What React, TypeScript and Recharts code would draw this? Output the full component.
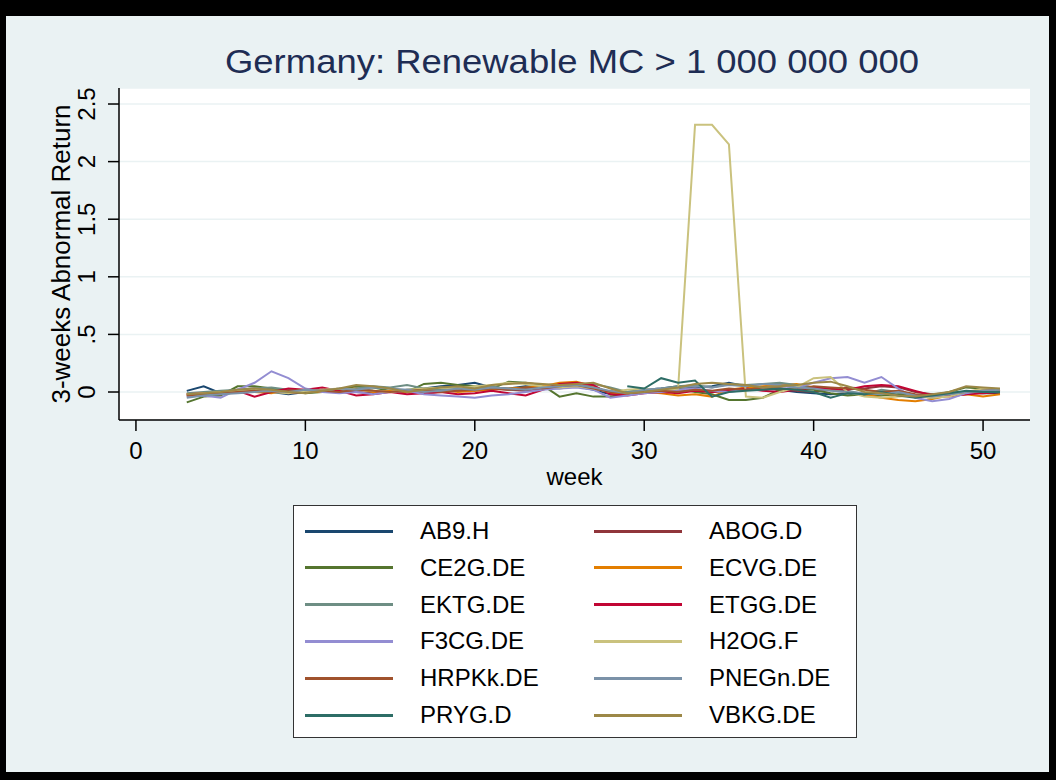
import { CartesianGrid, Line, LineChart, XAxis, YAxis } from "recharts";

const FONT = "'Liberation Sans', Arial, sans-serif";

const weeks = [
  3, 4, 5, 6, 7, 8, 9, 10, 11, 12,
  13, 14, 15, 16, 17, 18, 19, 20, 21, 22,
  23, 24, 25, 26, 27, 28, 29, 30, 31, 32,
  33, 34, 35, 36, 37, 38, 39, 40, 41, 42,
  43, 44, 45, 46, 47, 48, 49, 50, 51
];

const seriesNames = [
  "AB9.H", "ABOG.D", "CE2G.DE", "ECVG.DE", "EKTG.DE", "ETGG.DE",
  "F3CG.DE", "H2OG.F", "HRPKk.DE", "PNEGn.DE", "PRYG.D", "VBKG.DE"
];

const seriesColors = [
  "#1a476f", "#90353b", "#55752f", "#e37e00", "#6e8e84", "#c10534",
  "#938dd2", "#cac27e", "#a0522d", "#7b92a8", "#2d6d66", "#9c8847"
];

const ab9 = [
  0.01, 0.05, -0.01, 0.0, 0.02, 0.0, -0.02, 0.0, 0.02, 0.01,
  0.03, 0.01, 0.0, 0.02, 0.03, 0.05, 0.06, 0.08, 0.04, 0.03,
  0.05, 0.04, 0.06, 0.05, 0.02, -0.02, 0.0, 0.02, 0.03, 0.05,
  0.04, 0.05, 0.08, 0.05, 0.03, 0.02, 0.0, -0.01, -0.02, -0.01,
  -0.03, -0.02, 0.0, -0.04, -0.02, -0.01, 0.0, -0.01, -0.01
];
const abog = [
  -0.03, -0.02, 0.0, 0.02, 0.03, 0.01, -0.01, 0.0, 0.01, 0.02,
  0.0, -0.01, 0.01, 0.0, -0.01, 0.0, 0.02, 0.01, 0.03, 0.02,
  0.01, 0.03, 0.05, 0.06, 0.04, 0.0, -0.02, 0.0, 0.01, 0.02,
  0.03, 0.0, 0.01, 0.02, 0.04, 0.03, 0.01, 0.0, 0.02, 0.04,
  0.03, 0.05, 0.04, 0.0, -0.02, -0.03, -0.02, 0.0, 0.02
];
const ce2g = [
  -0.09, -0.04, -0.03, 0.05, 0.05, 0.03, 0.01, -0.01, 0.0, 0.02,
  0.05, 0.04, 0.01, 0.0, 0.07, 0.08, 0.06, 0.05, 0.03, 0.09,
  0.08, 0.06, -0.04, -0.01, -0.04, -0.04, -0.02, 0.0, 0.02, 0.03,
  0.0, -0.02, -0.07, -0.07, -0.05, 0.02, 0.03, 0.02, -0.01, -0.03,
  -0.02, -0.03, -0.02, -0.04, -0.03, 0.0, 0.04, 0.03, 0.02
];
const ecvg = [
  -0.02, -0.01, 0.0, 0.01, 0.0, -0.01, 0.02, 0.01, 0.0, 0.02,
  0.03, 0.0, 0.01, 0.0, -0.01, 0.02, 0.0, 0.01, 0.02, 0.03,
  0.04, 0.05, 0.08, 0.09, 0.05, -0.01, -0.02, 0.0, -0.01, -0.03,
  -0.02, -0.04, 0.02, 0.04, 0.05, 0.06, 0.07, 0.04, 0.02, 0.0,
  -0.02, -0.05, -0.07, -0.08, -0.06, -0.03, -0.02, -0.04, -0.02
];
const ektg = [
  -0.01, 0.0, 0.01, 0.02, 0.03, 0.04, 0.02, 0.01, 0.02, 0.0,
  0.03, 0.05, 0.04, 0.06, 0.03, 0.02, 0.04, 0.03, 0.05, 0.02,
  0.03, 0.04, 0.03, 0.05, 0.07, 0.04, 0.0, 0.02, 0.03, 0.05,
  0.06, 0.04, 0.07, 0.06, 0.07, 0.08, 0.06, 0.04, 0.03, 0.01,
  -0.02, 0.02, 0.0, -0.03, -0.05, -0.03, 0.0, 0.02, 0.01
];
const etgg = [
  -0.02, -0.01, -0.02, 0.01, -0.04, 0.0, 0.03, 0.02, 0.04, 0.01,
  -0.03, -0.02, 0.0, -0.02, -0.01, 0.0, -0.02, -0.01, 0.01, -0.01,
  -0.03, 0.02, 0.07, 0.08, 0.06, -0.02, -0.03, -0.01, 0.0, -0.01,
  0.01, 0.0, 0.02, 0.03, 0.01, 0.0, 0.02, 0.04, 0.03, 0.02,
  0.05, 0.06, 0.05, 0.01, -0.03, -0.04, -0.02, -0.01, 0.0
];
const f3cg = [
  -0.04, -0.03, -0.05, 0.02, 0.08, 0.18, 0.12, 0.03, 0.0, -0.01,
  0.0, -0.02, 0.0, 0.01, -0.02, -0.03, -0.04, -0.05, -0.03, -0.02,
  0.0, 0.02, 0.03, 0.04, 0.02, -0.05, -0.03, -0.01, 0.0, 0.02,
  0.03, 0.01, 0.0, 0.02, 0.03, 0.05, 0.04, 0.08, 0.12, 0.13,
  0.08, 0.13, 0.03, -0.05, -0.08, -0.06, -0.01, 0.01, 0.0
];
const h2og = [
  -0.02, -0.01, 0.0, 0.01, 0.02, 0.0, -0.01, 0.01, 0.02, 0.03,
  0.02, 0.01, 0.0, 0.02, 0.03, 0.04, 0.03, 0.05, 0.06, 0.08,
  0.07, 0.05, 0.04, 0.05, 0.03, 0.0, 0.02, 0.03, 0.01, 0.03,
  2.32, 2.32, 2.15, -0.04, -0.05, 0.0, 0.04, 0.12, 0.13, 0.0,
  -0.04, -0.05, -0.04, -0.03, -0.05, -0.04, 0.0, 0.03, 0.02
];
const hrpk = [
  -0.03, -0.02, -0.01, 0.0, 0.01, 0.0, 0.01, 0.02, 0.01, 0.0,
  0.02, 0.01, 0.0, 0.01, 0.02, 0.0, 0.01, 0.02, 0.03, 0.02,
  0.04, 0.03, 0.05, 0.06, 0.03, 0.0, -0.01, 0.0, 0.01, 0.0,
  0.02, 0.01, 0.03, 0.02, 0.04, 0.03, 0.02, 0.05, 0.04, 0.03,
  0.02, 0.0, 0.01, -0.02, -0.03, -0.01, 0.0, 0.01, 0.02
];
const pneg = [
  -0.05, -0.03, -0.02, -0.01, 0.0, 0.01, 0.0, 0.02, 0.01, 0.03,
  0.02, 0.04, 0.03, 0.02, 0.0, 0.01, 0.03, 0.02, 0.04, 0.03,
  0.02, 0.04, 0.05, 0.06, 0.04, 0.01, -0.01, 0.02, 0.03, 0.04,
  0.05, 0.04, 0.06, 0.05, 0.07, 0.06, 0.04, 0.03, 0.01, 0.0,
  -0.01, -0.02, 0.0, -0.03, -0.04, -0.02, 0.0, 0.01, 0.02
];
const pryg = [
  null, null, null, null, null, null, null, null, null, null,
  null, null, null, null, null, null, null, null, null, null,
  null, null, null, null, null, null, 0.05, 0.03, 0.12, 0.08,
  0.1, -0.04, 0.0, 0.01, 0.02, 0.03, 0.02, 0.0, -0.05, -0.01,
  -0.02, 0.0, -0.03, -0.05, -0.03, -0.01, 0.01, 0.0, 0.0
];
const vbkg = [
  -0.02, -0.01, 0.0, 0.02, 0.03, 0.02, 0.0, -0.01, 0.01, 0.03,
  0.06, 0.05, 0.03, 0.0, 0.02, 0.04, 0.05, 0.03, 0.06, 0.07,
  0.08, 0.07, 0.06, 0.07, 0.08, 0.03, -0.01, 0.0, 0.02, 0.04,
  0.07, 0.08, 0.07, 0.06, 0.04, 0.05, 0.06, 0.08, 0.09, 0.05,
  0.0, -0.01, -0.03, -0.04, -0.02, 0.0, 0.05, 0.04, 0.03
];

const seriesValues = [ab9, abog, ce2g, ecvg, ektg, etgg, f3cg, h2og, hrpk, pneg, pryg, vbkg];

const xTicks = [0, 10, 20, 30, 40, 50];
const yTicks = [0, 0.5, 1, 1.5, 2, 2.5];
const yTickLabels = ["0", ".5", "1", "1.5", "2", "2.5"];

const data = weeks.map((week, i) => {
  const row: Record<string, number | null> = { week };
  seriesValues.forEach((vals, s) => {
    row["s" + s] = vals[i];
  });
  return row;
});

function YTick({ x, y, payload }: any) {
  const idx = yTicks.indexOf(payload.value);
  const bx = x - 11;
  return (
    <text
      x={bx}
      y={y}
      transform={`rotate(-90 ${bx} ${y})`}
      textAnchor="middle"
      fontSize={24}
      fontFamily={FONT}
      fill="#000"
    >
      {idx >= 0 ? yTickLabels[idx] : payload.value}
    </text>
  );
}

function YTitle({ viewBox }: any) {
  const cy = viewBox.y + viewBox.height / 2;
  return (
    <text
      x={70}
      y={cy}
      transform={`rotate(-90 70 ${cy})`}
      textAnchor="middle"
      fontSize={26}
      fontFamily={FONT}
      fill="#000"
    >
      3-weeks Abnormal Return
    </text>
  );
}

function XTitle({ viewBox }: any) {
  return (
    <text
      x={viewBox.x + viewBox.width / 2}
      y={viewBox.y + 65}
      textAnchor="middle"
      fontSize={24}
      fontFamily={FONT}
      fill="#000"
    >
      week
    </text>
  );
}

function LegendBox() {
  return (
    <div
      style={{
        position: "absolute",
        left: 293,
        top: 505,
        width: 562,
        height: 231,
        background: "#fff",
        border: "1.5px solid #333",
        fontFamily: FONT,
        fontSize: 24,
        color: "#000"
      }}
    >
      {seriesNames.map((name, i) => {
        const col = i % 2;
        const row = Math.floor(i / 2);
        const cy = 25 + row * 36.8;
        const lineLeft = col === 0 ? 11 : 300;
        const textLeft = col === 0 ? 126 : 415;
        return (
          <div key={name}>
            <div
              style={{
                position: "absolute",
                left: lineLeft,
                top: cy - 1.5,
                width: 88,
                height: 3,
                background: seriesColors[i]
              }}
            />
            <div
              style={{
                position: "absolute",
                left: textLeft,
                top: cy - 14,
                lineHeight: "28px",
                whiteSpace: "nowrap"
              }}
            >
              {name}
            </div>
          </div>
        );
      })}
    </div>
  );
}

export default function App() {
  return (
    <div
      style={{
        position: "absolute",
        left: 0,
        top: 0,
        width: 1056,
        height: 780,
        background: "#000"
      }}
    >
      <div
        style={{
          position: "absolute",
          left: 6,
          top: 16,
          width: 1043,
          height: 756,
          background: "#eaf2f3"
        }}
      />
      <div style={{ position: "absolute", left: 0, top: 0 }}>
        <LineChart
          width={1056}
          height={780}
          data={data}
          margin={{ top: 88, right: 26, left: 60, bottom: 300 }}
        >
          <CartesianGrid
            horizontal
            vertical={false}
            fill="#fff"
            stroke="#eaf2f3"
            strokeWidth={1.5}
          />
          <XAxis
            dataKey="week"
            type="number"
            domain={[-1, 52.77]}
            ticks={xTicks}
            height={60}
            tickSize={11}
            tickMargin={11}
            stroke="#000"
            strokeWidth={1.5}
            tick={{ fill: "#000", fontSize: 24, fontFamily: FONT }}
            label={<XTitle />}
          />
          <YAxis
            type="number"
            domain={[-0.243, 2.639]}
            ticks={yTicks}
            width={59}
            tickSize={11}
            tickMargin={2}
            stroke="#000"
            strokeWidth={1.5}
            tick={<YTick />}
            label={<YTitle />}
          />
          {seriesNames.map((name, i) => (
            <Line
              key={name}
              dataKey={"s" + i}
              name={name}
              stroke={seriesColors[i]}
              strokeWidth={2}
              dot={false}
              type="linear"
              isAnimationActive={false}
            />
          ))}
        </LineChart>
      </div>
      <svg
        width={1056}
        height={100}
        style={{ position: "absolute", left: 0, top: 0 }}
      >
        <text
          x={572}
          y={73}
          textAnchor="middle"
          fontSize={33}
          fontFamily={FONT}
          fill="#1e2d54"
          textLength={694}
          lengthAdjust="spacingAndGlyphs"
        >
          Germany: Renewable MC &gt; 1 000 000 000
        </text>
      </svg>
      <LegendBox />
    </div>
  );
}
